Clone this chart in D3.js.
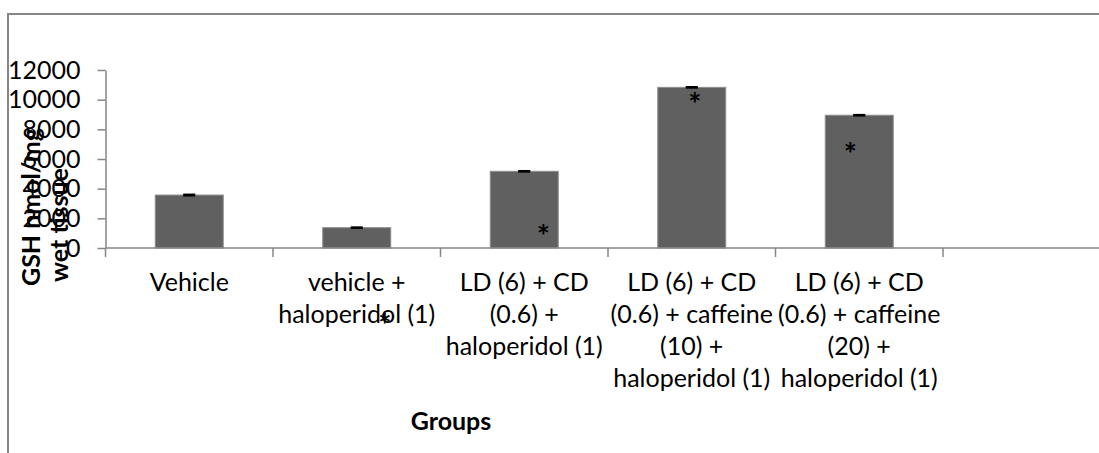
<!DOCTYPE html>
<html>
<head>
<meta charset="utf-8">
<script src="https://cdn.jsdelivr.net/npm/d3@7"></script>
<style>
  html, body { margin: 0; padding: 0; background: #ffffff; }
  svg { display: block; }
  text { font-family: "Lato", "Open Sans", sans-serif; fill: #000; }
</style>
</head>
<body>
<svg id="chart" width="1099" height="453"></svg>
<script>
// GSH content per treatment group (nmol/mg wet tissue)
const categories = [
  "Vehicle",
  "vehicle +\nhaloperidol (1)",
  "LD (6) + CD\n(0.6) +\nhaloperidol (1)",
  "LD (6) + CD\n(0.6) + caffeine\n(10) +\nhaloperidol (1)",
  "LD (6) + CD\n(0.6) + caffeine\n(20) +\nhaloperidol (1)"
];
const gshValues = [3570, 1370, 5170, 10830, 8950];
const gshErrors = [40, 30, 30, 30, 30];
const significant = [false, true, true, true, true];
const yTicks = [0, 2000, 4000, 6000, 8000, 10000, 12000];
const yTitleLines = ["GSH nmol/mg", "wet tissue"];
const xTitle = "Groups";

// ---- layout ----
const W = 1099, H = 453;
const plotLeft = 105.5, slotWidth = 167.5, slotCount = 6; // axis runs one empty slot past the last group
const plotBottom = 248, plotTop = 70;
const axisColor = "#868686";
const fontSize = 25;

const svg = d3.select("#chart");

// chart-area frame (top and left edges)
svg.append("path")
  .attr("d", `M8,453 V14 H${W}`)
  .attr("fill", "none")
  .attr("stroke", axisColor)
  .attr("stroke-width", 2);

const x = d3.scaleBand()
  .domain(d3.range(slotCount))
  .range([plotLeft, plotLeft + slotCount * slotWidth])
  .paddingInner(0.594)
  .paddingOuter(0.297);

const y = d3.scaleLinear()
  .domain([0, d3.max(yTicks)])
  .range([plotBottom, plotTop]);

// y axis
const yAxis = svg.append("g")
  .attr("transform", `translate(${plotLeft},0)`)
  .call(d3.axisLeft(y).tickValues(yTicks).tickSize(8).tickSizeOuter(0).tickPadding(17).tickFormat(d3.format("d")));
yAxis.select(".domain").attr("stroke", axisColor).attr("stroke-width", 1.5);
yAxis.selectAll(".tick line").attr("stroke", axisColor).attr("stroke-width", 1.5);
yAxis.selectAll(".tick text")
  .attr("font-size", fontSize)
  .attr("font-family", "Lato, 'Open Sans', sans-serif")
  .attr("fill", "#000");

// bars
const bars = svg.append("g");
bars.selectAll("rect")
  .data(gshValues)
  .join("rect")
  .attr("x", (d, i) => x(i))
  .attr("width", x.bandwidth())
  .attr("y", d => y(d))
  .attr("height", d => y(0) - y(d))
  .attr("fill", "#606060")
  .attr("stroke", "#8e8e8e")
  .attr("stroke-width", 1);

// error bars
const errG = svg.append("g").attr("stroke", "#000").attr("stroke-width", 1.8);
gshValues.forEach((v, i) => {
  const cx = x(i) + x.bandwidth() / 2;
  errG.append("line")
    .attr("x1", cx).attr("x2", cx)
    .attr("y1", y(v - gshErrors[i])).attr("y2", y(v + gshErrors[i]));
  [v - gshErrors[i], v + gshErrors[i]].forEach(e => {
    errG.append("line")
      .attr("x1", cx - 6).attr("x2", cx + 6)
      .attr("y1", y(e)).attr("y2", y(e));
  });
});

// x axis line and slot boundary ticks
const boundaries = d3.range(slotCount + 1).map(i => x.range()[0] + i * x.step());
svg.append("line")
  .attr("x1", plotLeft).attr("x2", x.range()[1])
  .attr("y1", plotBottom).attr("y2", plotBottom)
  .attr("stroke", axisColor).attr("stroke-width", 1.5);
svg.append("g").selectAll("line")
  .data(boundaries)
  .join("line")
  .attr("x1", d => d).attr("x2", d => d)
  .attr("y1", plotBottom).attr("y2", plotBottom + 9)
  .attr("stroke", axisColor).attr("stroke-width", 1.5);

// category labels (wrapped)
const labelG = svg.append("g").attr("font-size", fontSize).attr("text-anchor", "middle");
categories.forEach((c, i) => {
  const t = labelG.append("text")
    .attr("x", x(i) + x.bandwidth() / 2)
    .attr("y", 291);
  c.split("\n").forEach((line, k) => {
    t.append("tspan")
      .attr("x", x(i) + x.bandwidth() / 2)
      .attr("dy", k === 0 ? 0 : 32)
      .text(line);
  });
});

// significance asterisks, offset from each bar top
const starOffsets = [null, [28, 90], [19, 58], [3, 10], [-9, 32]];
const starG = svg.append("g")
  .attr("font-size", 31)
  .attr("font-weight", "bold")
  .attr("text-anchor", "middle");
gshValues.forEach((v, i) => {
  if (!significant[i]) return;
  const [dx, dy] = starOffsets[i];
  starG.append("text")
    .attr("x", x(i) + x.bandwidth() / 2 + dx)
    .attr("y", y(v) + dy + 18)
    .text("*");
});

// axis titles
svg.append("text")
  .attr("x", 451)
  .attr("y", 430)
  .attr("text-anchor", "middle")
  .attr("font-size", fontSize)
  .attr("font-weight", "bold")
  .text(xTitle);

const yTitle = svg.append("text")
  .attr("transform", "translate(40,286) rotate(-90)")
  .attr("text-anchor", "start")
  .attr("font-size", fontSize)
  .attr("font-weight", "bold");
yTitleLines.forEach((line, k) => {
  yTitle.append("tspan")
    .attr("x", k === 0 ? 0 : 4)
    .attr("dy", k === 0 ? 0 : 28)
    .text(line);
});
</script>
</body>
</html>
